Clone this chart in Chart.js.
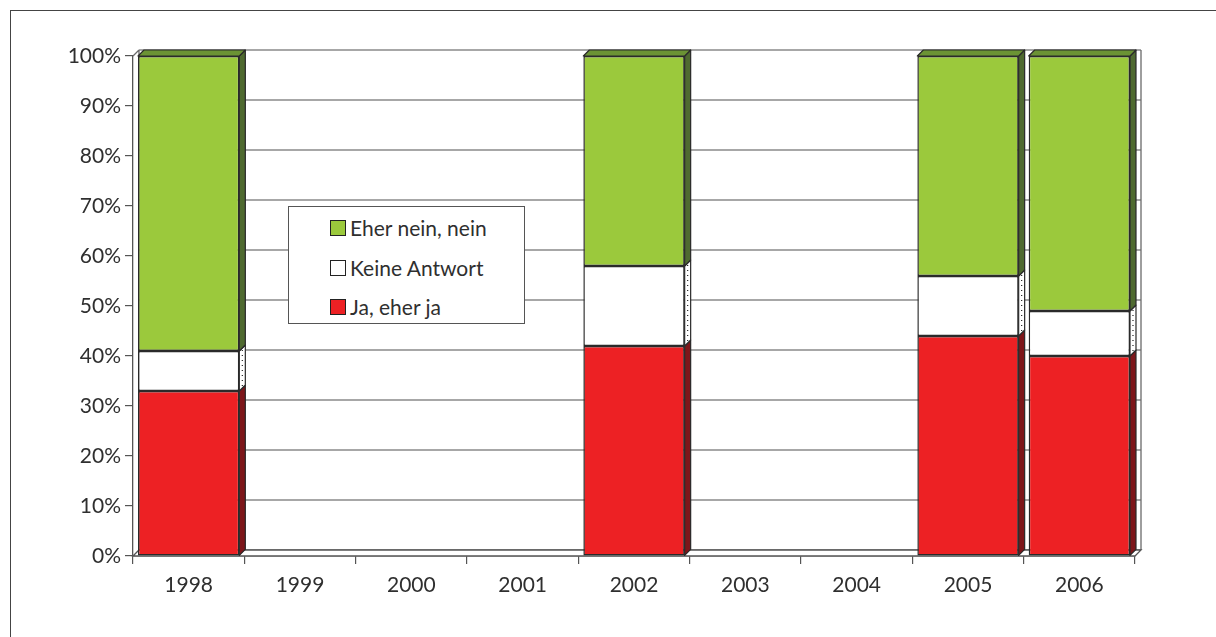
<!DOCTYPE html>
<html lang="de">
<head>
  <meta charset="UTF-8">
  <title>Umfrage 1998–2006</title>
  <script src="https://cdn.jsdelivr.net/npm/chart.js"></script>
  <style>
    html, body { margin: 0; padding: 0; background: #fff; }
    body { width: 1216px; height: 637px; position: relative; overflow: hidden; font-family: "Lato", sans-serif; }
    #frame {
      position: absolute; left: 10px; top: 10px; width: 1300px; height: 700px;
      border-left: 1.5px solid #444; border-top: 1.5px solid #444;
    }
    #wrap { position: absolute; left: 0; top: 0; width: 1216px; height: 637px; }
    #legendBox {
      position: absolute; left: 288px; top: 206px; width: 237px; height: 118px;
      border: 1px solid #555; background: #fff; box-sizing: border-box;
      padding: 8px 0 0 41px; color: #2f2f2f; font-size: 21px;
    }
    #legendBox div { height: 39.5px; line-height: 26px; display: flex; align-items: flex-start; }
    #legendBox span.box {
      display: inline-block; width: 14px; height: 14px; border: 1.5px solid #222;
      margin: 5px 4px 0 0;
    }
  </style>
</head>
<body>
<div id="frame"></div>
<div id="wrap"><canvas id="chart" width="1216" height="637"></canvas></div>
<div id="legendBox"></div>

<script>
// Jahre und Anteile in Prozent (leere Jahre = keine Befragung)
const years = ["1998", "1999", "2000", "2001", "2002", "2003", "2004", "2005", "2006"];
const jaEherJa     = [33, null, null, null, 42, null, null, 44, 40];
const keineAntwort = [8,  null, null, null, 16, null, null, 12, 9];
const eherNeinNein = [59, null, null, null, 42, null, null, 44, 51];
const yTicks = [0, 10, 20, 30, 40, 50, 60, 70, 80, 90, 100];

const DEPTH = 6;
const faces = {
  red:   { front: "#ed2124", side: "#7d161a", top: "#a51a1d" },
  white: { front: "#ffffff", side: "#ffffff", top: "#f2f2f2" },
  green: { front: "#9bc93c", side: "#4f6a30", top: "#6b9334" }
};

const series = [
  { label: "Ja, eher ja", data: jaEherJa, face: faces.red },
  { label: "Keine Antwort", data: keineAntwort, face: faces.white },
  { label: "Eher nein, nein", data: eherNeinNein, face: faces.green }
];

// Legende (oberster Stapel zuerst)
const legendBox = document.getElementById("legendBox");
legendBox.innerHTML = series.slice().reverse().map(s =>
  `<div><span class="box" style="background:${s.face.front}"></span>${s.label}</div>`
).join("");

function poly(ctx, pts, fill, stroke) {
  ctx.beginPath();
  ctx.moveTo(pts[0][0], pts[0][1]);
  for (let i = 1; i < pts.length; i++) ctx.lineTo(pts[i][0], pts[i][1]);
  ctx.closePath();
  if (fill) { ctx.fillStyle = fill; ctx.fill(); }
  if (stroke) { ctx.strokeStyle = stroke; ctx.stroke(); }
}

// Rückwand, Boden und Gitterlinien mit Tiefenversatz
const backWall = {
  id: "backWall",
  beforeDatasetsDraw(chart) {
    const { ctx, chartArea: a, scales: { y } } = chart;
    const d = DEPTH;
    ctx.save();
    ctx.lineWidth = 1.3;
    yTicks.forEach(v => {
      const py = y.getPixelForValue(v) - d;
      ctx.strokeStyle = "#8a8a8a";
      ctx.beginPath(); ctx.moveTo(a.left + d, py); ctx.lineTo(a.right + d, py); ctx.stroke();
    });
    ctx.strokeStyle = "#6a6a6a";
    // linke Wand
    ctx.beginPath();
    ctx.moveTo(a.left + d, a.top - d); ctx.lineTo(a.left + d, a.bottom - d);
    ctx.moveTo(a.left, a.top); ctx.lineTo(a.left + d, a.top - d);
    ctx.stroke();
    // rechte Kante
    ctx.beginPath(); ctx.moveTo(a.right + d, a.top - d); ctx.lineTo(a.right + d, a.bottom - d); ctx.stroke();
    // Boden
    poly(ctx, [[a.left, a.bottom], [a.left + d, a.bottom - d], [a.right + d, a.bottom - d], [a.right, a.bottom]], "#fff", "#555");
    ctx.restore();
  }
};

// Seiten- und Deckflächen der Säulen
const barDepth = {
  id: "barDepth",
  afterDatasetsDraw(chart) {
    const { ctx } = chart;
    const d = DEPTH;
    ctx.save();
    ctx.lineWidth = 1.2;
    ctx.lineJoin = "round";
    series.forEach((s, di) => {
      const meta = chart.getDatasetMeta(di);
      meta.data.forEach((bar, i) => {
        if (s.data[i] == null) return;
        const { x, y, base, width } = bar.getProps(["x", "y", "base", "width"], true);
        const left = x - width / 2, right = x + width / 2;
        poly(ctx, [[right, base], [right + d, base - d], [right + d, y - d], [right, y]], s.face.side, "#2a2a2a");
        if (s.face === faces.white) {
          ctx.save();
          ctx.setLineDash([1, 4]);
          ctx.strokeStyle = "#222";
          ctx.beginPath(); ctx.moveTo(right + d / 2, base - d / 2 - 2); ctx.lineTo(right + d / 2, y - d / 2 + 2); ctx.stroke();
          ctx.restore();
        }
        const isTop = series.slice(di + 1).every(o => o.data[i] == null);
        if (isTop) {
          poly(ctx, [[left, y], [left + d, y - d], [right + d, y - d], [right, y]], s.face.top, "#2a2a2a");
        }
      });
    });
    ctx.restore();
  }
};

new Chart(document.getElementById("chart"), {
  type: "bar",
  data: {
    labels: years,
    datasets: series.map(s => ({
      label: s.label,
      data: s.data,
      backgroundColor: s.face.front,
      borderColor: "#2a2a2a",
      borderWidth: 1.5,
      borderSkipped: false,
      categoryPercentage: 1,
      barPercentage: 0.91
    }))
  },
  options: {
    responsive: false,
    animation: false,
    events: [],
    layout: { padding: { left: 10, top: 56, right: 81, bottom: 20 } },
    plugins: { legend: { display: false }, tooltip: { enabled: false } },
    scales: {
      x: {
        stacked: true,
        afterFit(scale) { scale.height = 61; },
        grid: { display: true, drawOnChartArea: false, drawTicks: true, tickLength: 8, color: "#555", lineWidth: 1.2, offset: true },
        border: { display: true, color: "#555", width: 1.3 },
        ticks: { color: "#2f2f2f", font: { family: "Lato", size: 21 }, padding: 9, maxRotation: 0 }
      },
      y: {
        stacked: true,
        min: 0,
        max: 100,
        afterFit(scale) { scale.width = 123; },
        afterBuildTicks(scale) { scale.ticks = yTicks.map(v => ({ value: v })); },
        grid: { display: true, drawOnChartArea: false, drawTicks: true, tickLength: 8, color: "#555", lineWidth: 1.2 },
        border: { display: true, color: "#555", width: 1.3 },
        ticks: { color: "#2f2f2f", font: { family: "Lato", size: 21 }, padding: 4, callback: v => v + "%" }
      }
    }
  },
  plugins: [backWall, barDepth]
});
</script>
</body>
</html>
